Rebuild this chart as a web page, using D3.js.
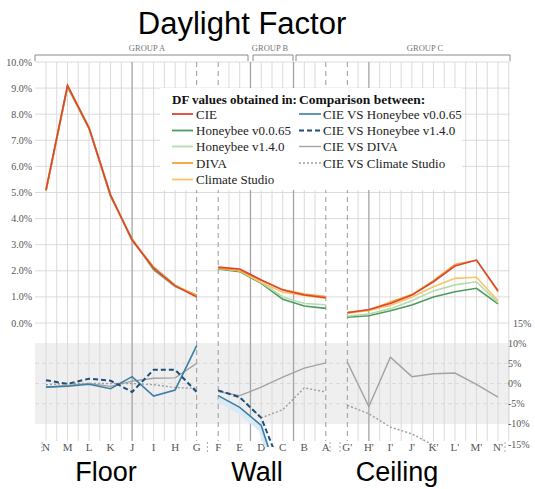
<!DOCTYPE html>
<html><head><meta charset="utf-8">
<script src="https://cdn.jsdelivr.net/npm/d3@7"></script>
<style>body{margin:0;background:#fff}</style>
</head><body><svg id="c" width="535" height="489"></svg>
<script>
// ---------- DATA ----------
const categories = ["N","M","L","K","J","I","H","G","F","E","D","C","B","A","G'","H'","I'","J'","K'","L'","M'","N'"];
const groupRanges = [[0,7],[8,13],[14,21]];
const groupNames = ["GROUP A","GROUP B","GROUP C"];
const surfaceNames = ["Floor","Wall","Ceiling"];
const leftTicks = [0,1,2,3,4,5,6,7,8,9,10];
const rightTicks = [15,10,5,0,-5,-10,-15];

const dfCIE   = [5.1,9.1,7.47,4.9,3.18,2.1,1.42,1.0,   2.14,2.07,1.65,1.26,1.07,0.97,   0.39,0.52,0.75,1.07,1.58,2.18,2.41,1.24];
const dfHB065 = [5.05,9.05,7.45,4.85,3.22,2.04,1.40,1.06, 2.07,1.97,1.52,0.91,0.65,0.56, 0.22,0.28,0.47,0.69,1.0,1.2,1.33,0.73];
const dfHB140 = [5.12,9.1,7.52,4.92,3.14,2.16,1.46,0.98, 2.09,2.0,1.55,1.0,0.75,0.7,    0.27,0.34,0.55,0.85,1.23,1.46,1.58,0.78];
const dfDIVA  = [5.06,9.07,7.47,4.88,3.2,2.13,1.44,1.05, 2.10,2.01,1.64,1.28,1.11,1.01, 0.41,0.49,0.8,1.09,1.62,2.24,2.41,1.2];
const dfCS    = [5.08,9.1,7.47,4.9,3.18,2.09,1.41,0.99, 2.11,2.0,1.55,1.18,1.06,0.95,   0.37,0.48,0.67,1.0,1.39,1.71,1.75,0.85];

const cmpHB065 = [-0.9,-0.7,-0.2,-1.3,1.7,-3.1,-1.6,9.4,  -3.0,-5.9,-10.4,-27,-33,-36,  -40,-45,-38,-36,-37,-45,-45,-41];
const cmpHB140 = [0.8,-0.1,1.2,0.7,-2.1,3.4,3.4,-2.1,    -1.7,-3.4,-8.5,-22,-27,-30,   -30,-35,-27,-21,-22,-33,-34,-37];
const cmpDIVA  = [-0.9,-0.5,0,-0.7,0.6,1.3,1.4,5.0,      -2.0,-3.0,-0.9,1.6,3.8,5.1,   5.3,-5.7,6.5,1.7,2.4,2.6,-0.2,-3.4];
const cmpCS    = [-0.3,0,0,0,0,-0.3,-1.0,-1.2,           -1.7,-3.4,-8.5,-6.5,-1.1,-2.1, -5.4,-7.5,-10.8,-12.5,-15.3,-21,-27,-31];

// ---------- SETUP ----------
const svg = d3.select("#c");
const x = d3.scalePoint().domain(categories).range([46, 498]);
const step = x.step();
const yT = d3.scaleLinear().domain([0,10]).range([323, 62]);
const yB = d3.scaleLinear().domain([-15,15]).range([444, 323]);
const left = 35, right = 510, gridBottom = 441;
const serif = "'Liberation Serif','Times New Roman',serif";
const sans = "'Liberation Sans',Arial,sans-serif";

// band in lower panel
svg.append("rect").attr("x", left).attr("width", right-left)
  .attr("y", yB(10)).attr("height", yB(-10)-yB(10)).attr("fill", "#efefef");
[5,0,-5].forEach(v => svg.append("line").attr("x1",left).attr("x2",right)
  .attr("y1",yB(v)).attr("y2",yB(v)).attr("stroke","#dadada").attr("stroke-dasharray","4,3"));

// horizontal grid top
leftTicks.forEach(v => svg.append("line").attr("x1",left).attr("x2",right)
  .attr("y1",yT(v)).attr("y2",yT(v)).attr("stroke","#dcdcdc").attr("stroke-width",1));

// vertical grid
const boundaries = [7, 13];
const vlines = [];
categories.forEach((c,i) => {
  vlines.push({pos: x(c), kind: (i===7||i===8||i===13||i===14) ? "dash" : "grid", i: i});
  if (!boundaries.includes(i)) vlines.push({pos: x(c)+step/2, kind: "grid", i: i+0.5});
});
const dark = [4, 9.5, 11.5, 15];
vlines.forEach(d => {
  const isDark = dark.includes(d.i);
  const ln = svg.append("line").attr("x1",d.pos).attr("x2",d.pos).attr("y1",yT(10)).attr("y2",gridBottom);
  if (d.kind === "dash") ln.attr("stroke","#9a9a9a").attr("stroke-dasharray","5,4").attr("stroke-width",1);
  else if (isDark) ln.attr("stroke","#a4a4a4").attr("stroke-width",1.3);
  else ln.attr("stroke","#dadada").attr("stroke-width",1);
});

// left axis labels
leftTicks.forEach(v => svg.append("text").attr("x",32).attr("y",yT(v)+3.5)
  .attr("text-anchor","end").attr("font-family",serif).attr("font-size",10).attr("fill","#555")
  .text(v.toFixed(1)+"%"));
// right axis labels
rightTicks.forEach(v => svg.append("text").attr("x", v===15 ? 513 : 508).attr("y",yB(v)+3.5)
  .attr("font-family",serif).attr("font-size",10).attr("fill","#555").text(v+"%"));

// category labels
categories.forEach(c => svg.append("text").attr("x",x(c)).attr("y",451)
  .attr("text-anchor","middle").attr("font-family",serif).attr("font-size",11).attr("fill","#555").text(c));
[42, x("G")+step/2, 330, 340, 505].forEach(p => svg.append("line").attr("x1",p).attr("x2",p)
  .attr("y1",442).attr("y2",453).attr("stroke","#aaa").attr("stroke-dasharray","2,2"));

// group brackets
const brackets = [[35,248],[253,293],[296,510]];
brackets.forEach((b,i) => {
  svg.append("path").attr("d",`M${b[0]},61V55H${b[1]}V61`).attr("fill","none").attr("stroke","#8a8a8a").attr("stroke-width",1);
  svg.append("text").attr("x",[147,270,425][i]).attr("y",51).attr("text-anchor","middle")
    .attr("font-family",serif).attr("font-size",8.5).attr("fill","#777").text(groupNames[i]);
});

// ---------- TOP LINES ----------
const topSeries = [
  {v: dfHB065, c: "#4f9a5e"},
  {v: dfHB140, c: "#b3dcb0"},
  {v: dfCS,    c: "#f7c563"},
  {v: dfDIVA,  c: "#f5a22e"},
  {v: dfCIE,   c: "#dc4436"}
];
const lineT = d3.line().x(d => x(d.c)).y(d => yT(d.v));
topSeries.forEach(s => {
  groupRanges.forEach(r => {
    const pts = d3.range(r[0], r[1]+1).map(i => ({c: categories[i], v: s.v[i]}));
    svg.append("path").attr("d", lineT(pts)).attr("fill","none").attr("stroke", s.c).attr("stroke-width",1.6);
  });
});

// ---------- BOTTOM LINES ----------
svg.append("clipPath").attr("id","clipB").append("rect")
  .attr("x",left).attr("width",right-left).attr("y",323).attr("height",447-323);
const gB = svg.append("g").attr("clip-path","url(#clipB)");
const lineB = d3.line().x(d => x(d.c)).y(d => yB(d.v));
// light halo for wall
{
  const r = groupRanges[1];
  const pts = d3.range(r[0], r[1]+1).map(i => ({c: categories[i], v: cmpHB065[i]-1}));
  gB.append("path").attr("d", lineB(pts)).attr("fill","none").attr("stroke","#d8ebf5").attr("stroke-width",5);
}
const botSeries = [
  {v: cmpDIVA,  c: "#a3a3a3", w: 1.4, dash: null},
  {v: cmpCS,    c: "#9e9e9e", w: 1.4, dash: "2,2"},
  {v: cmpHB065, c: "#3d7ea6", w: 1.6, dash: null},
  {v: cmpHB140, c: "#1d4f7c", w: 2, dash: "5,3"}
];
botSeries.forEach(s => {
  groupRanges.forEach(r => {
    const pts = d3.range(r[0], r[1]+1).map(i => ({c: categories[i], v: s.v[i]}));
    const p = gB.append("path").attr("d", lineB(pts)).attr("fill","none").attr("stroke", s.c).attr("stroke-width", s.w);
    if (s.dash) p.attr("stroke-dasharray", s.dash);
  });
});

// ---------- LEGEND ----------
const lg = svg.append("g");
lg.append("rect").attr("x",160).attr("y",88).attr("width",302).attr("height",102).attr("fill","#fff");
lg.append("text").attr("x",172).attr("y",103.5).attr("font-family",serif).attr("font-size",13).attr("font-weight","bold").attr("fill","#111").text("DF values obtained in:");
lg.append("text").attr("x",299).attr("y",103.5).attr("font-family",serif).attr("font-size",13.5).attr("font-weight","bold").attr("fill","#111").text("Comparison between:");
const leftLegend = [
  {t:"CIE", c:"#dc4436"},
  {t:"Honeybee v0.0.65", c:"#4f9a5e"},
  {t:"Honeybee v1.4.0", c:"#b3dcb0"},
  {t:"DIVA", c:"#f5a22e"},
  {t:"Climate Studio", c:"#f7c563"}
];
const rightLegend = [
  {t:"CIE VS Honeybee v0.0.65", c:"#3d7ea6", w:1.6, dash:null},
  {t:"CIE VS Honeybee v1.4.0", c:"#1d4f7c", w:2, dash:"5,3"},
  {t:"CIE VS DIVA", c:"#a3a3a3", w:1.4, dash:null},
  {t:"CIE VS Climate Studio", c:"#9e9e9e", w:1.4, dash:"2,2"}
];
const rowY = [118.5, 135, 151, 167.5, 184];
leftLegend.forEach((d,i) => {
  lg.append("line").attr("x1",172).attr("x2",193).attr("y1",rowY[i]-4.5).attr("y2",rowY[i]-4.5).attr("stroke",d.c).attr("stroke-width",1.8);
  lg.append("text").attr("x",196).attr("y",rowY[i]).attr("font-family",serif).attr("font-size",13).attr("fill","#222").text(d.t);
});
rightLegend.forEach((d,i) => {
  const l = lg.append("line").attr("x1",299).attr("x2",321).attr("y1",rowY[i]-4.5).attr("y2",rowY[i]-4.5).attr("stroke",d.c).attr("stroke-width",d.w);
  if (d.dash) l.attr("stroke-dasharray", d.dash);
  lg.append("text").attr("x",323).attr("y",rowY[i]).attr("font-family",serif).attr("font-size",13).attr("fill","#222").text(d.t);
});

// ---------- TITLES ----------
svg.append("text").attr("x",242).attr("y",34).attr("text-anchor","middle").attr("font-family",sans)
  .attr("font-size",31).attr("fill","#000").text("Daylight Factor");
[106,257,397].forEach((cx,i) => svg.append("text").attr("x",cx).attr("y",481).attr("text-anchor","middle")
  .attr("font-family",sans).attr("font-size",27).attr("fill","#000").text(surfaceNames[i]));
</script>
</body></html>
